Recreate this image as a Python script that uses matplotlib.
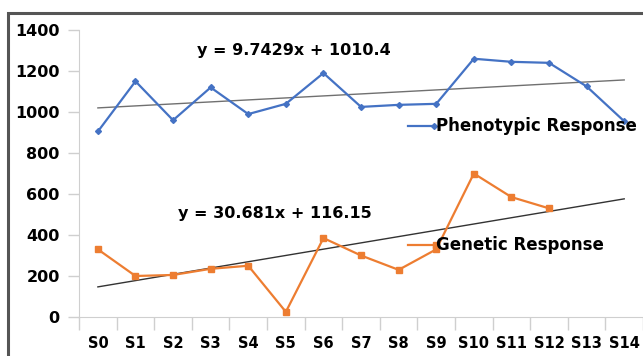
import numpy as np
from matplotlib import pyplot as plt
from matplotlib.patches import Rectangle

plt.rcParams['font.family'] = ['DejaVu Sans']
plt.rcParams['font.weight'] = 'bold'

STAGES = [f"S{i}" for i in range(15)]
PHENOTYPIC = [905, 1150, 960, 1120, 990, 1040, 1190, 1025, 1035, 1040, 1260, 1245, 1240, 1125, 955]
GENETIC = [330, 200, 205, 235, 250, 25, 385, 300, 230, 330, 700, 585, 530]
PHENO_FIT = (9.7429, 1010.4)
GENETIC_FIT = (30.681, 116.15)

BLUE = '#4472C4'
ORANGE = '#ED7D31'


def trend(fit, n):
    slope, intercept = fit
    x = np.arange(1, n + 1)
    return slope * x + intercept


def main():
    fig = plt.figure(figsize=(6.43, 3.56), dpi=100)
    axes = fig.add_axes([0.123, 0.1096, 0.877, 0.806])

    idx = np.arange(len(STAGES))
    axes.plot(idx, trend(PHENO_FIT, len(STAGES)), color='#707070', lw=1.0, zorder=2)
    axes.plot(idx, trend(GENETIC_FIT, len(STAGES)), color='#333333', lw=1.0, zorder=2)

    axes.plot(idx[:len(PHENOTYPIC)], PHENOTYPIC, color=BLUE, lw=1.6, marker='D', ms=3, zorder=3)
    axes.plot(idx[:len(GENETIC)], GENETIC, color=ORANGE, lw=1.6, marker='s', ms=4, zorder=3)

    axes.set_xlim(-0.5, 14.5)
    axes.set_ylim(0, 1400)
    axes.set_yticks(range(0, 1401, 200))
    axes.set_yticklabels([str(v) for v in range(0, 1401, 200)], fontsize=11.5)

    axes.set_xticks(idx)
    axes.set_xticklabels(STAGES, fontsize=10.5)
    axes.set_xticks(np.arange(-0.5, 15, 1), minor=True)
    axes.tick_params(axis='x', which='major', length=0, pad=14)
    axes.tick_params(axis='x', which='minor', length=9, color='#cfcfcf', width=1)
    axes.tick_params(axis='y', length=8, color='#cfcfcf', width=1, pad=6)

    for side in ('top', 'right'):
        axes.spines[side].set_visible(False)
    for side in ('left', 'bottom'):
        axes.spines[side].set_color('#cfcfcf')

    # equations of the linear trend lines
    axes.text(5.2, 1302, 'y = 9.7429x + 1010.4', fontsize=11.5, ha='center', va='center')
    axes.text(4.7, 507, 'y = 30.681x + 116.15', fontsize=11.5, ha='center', va='center')

    # in-plot legend entries
    axes.plot([8.25, 8.95], [930, 930], color=BLUE, lw=1.6, marker='D', ms=3, markevery=[1])
    axes.text(9.0, 930, 'Phenotypic Response', fontsize=12, va='center')
    axes.plot([8.25, 9.0], [350, 350], color=ORANGE, lw=1.6, marker='s', ms=4, markevery=[1])
    axes.text(9.0, 350, 'Genetic Response', fontsize=12, va='center')

    fig.patches.append(Rectangle((8 / 643, -0.1), 1.1, 1.1 - 13 / 356, transform=fig.transFigure,
                                 fill=False, edgecolor='#555555', lw=2.2))

    fig.savefig('out.png', dpi=100)
    plt.close(fig)


if __name__ == '__main__':
    main()
